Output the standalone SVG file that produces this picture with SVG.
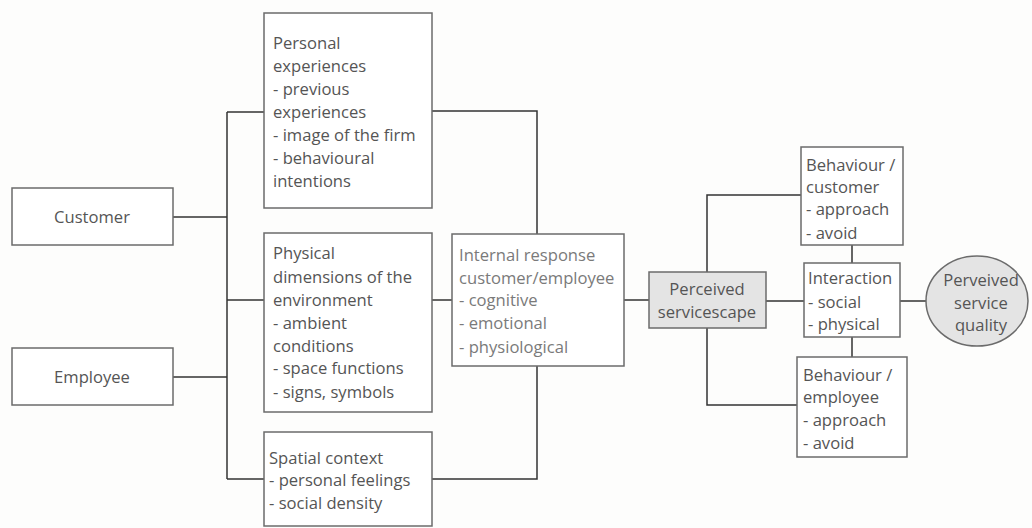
<svg xmlns="http://www.w3.org/2000/svg" width="1032" height="528" viewBox="0 0 1032 528">
  <style>
    .box { fill: #ffffff; stroke: #6b6b6b; stroke-width: 1.5; }
    .grey { fill: #e4e4e4; stroke: #6b6b6b; stroke-width: 1.5; }
    .link { fill: none; stroke: #333333; stroke-width: 1.5; }
    text { font-family: "Open Sans", "Noto Sans", "Liberation Sans", sans-serif; font-size: 16.6px; fill: #555555; }
    .light { fill: #7a7a7a; }
    .mid { text-anchor: middle; }
  </style>
  <rect width="1032" height="528" fill="#fdfdfc"/>

  <g id="connectors">
    <!-- left trunk -->
    <path class="link" d="M227 112 V479"/>
    <path class="link" d="M173 217 H227"/>
    <path class="link" d="M173 377 H227"/>
    <path class="link" d="M227 112 H264"/>
    <path class="link" d="M227 300 H264"/>
    <path class="link" d="M227 479 H264"/>
    <!-- into internal response -->
    <path class="link" d="M432 111 H537 V234"/>
    <path class="link" d="M432 300 H452"/>
    <path class="link" d="M432 479 H537 V366"/>
    <path class="link" d="M624 300 H649"/>
    <!-- servicescape branches -->
    <path class="link" d="M707 272 V195 H801"/>
    <path class="link" d="M707 328 V405 H797"/>
    <path class="link" d="M766 301 H804"/>
    <path class="link" d="M852 245 V263"/>
    <path class="link" d="M852 337 V357"/>
    <path class="link" d="M900 301 H926"/>
  </g>

  <g id="customer">
    <rect class="box" x="12" y="188" width="161" height="57"/>
    <text class="mid" x="92" y="223">Customer</text>
  </g>

  <g id="employee">
    <rect class="box" x="12" y="348" width="161" height="57"/>
    <text class="mid" x="92" y="383">Employee</text>
  </g>

  <g id="personal-experiences">
    <rect class="box" x="264" y="13" width="168" height="195"/>
    <text x="273" y="49">Personal</text>
    <text x="273" y="72">experiences</text>
    <text x="273" y="95">- previous</text>
    <text x="273" y="118">experiences</text>
    <text x="273" y="141">- image of the firm</text>
    <text x="273" y="164">- behavioural</text>
    <text x="273" y="187">intentions</text>
  </g>

  <g id="physical-dimensions">
    <rect class="box" x="264" y="233" width="168" height="179"/>
    <text x="273" y="259">Physical</text>
    <text x="273" y="283">dimensions of the</text>
    <text x="273" y="306">environment</text>
    <text x="273" y="329">- ambient</text>
    <text x="273" y="352">conditions</text>
    <text x="273" y="374">- space functions</text>
    <text x="273" y="398">- signs, symbols</text>
  </g>

  <g id="spatial-context">
    <rect class="box" x="264" y="432" width="168" height="94"/>
    <text x="269" y="464">Spatial context</text>
    <text x="269" y="486">- personal feelings</text>
    <text x="269" y="509">- social density</text>
  </g>

  <g id="internal-response">
    <rect class="box" x="452" y="234" width="172" height="132"/>
    <text class="light" x="459" y="261">Internal response</text>
    <text class="light" x="459" y="284">customer/employee</text>
    <text class="light" x="459" y="306">- cognitive</text>
    <text class="light" x="459" y="329">- emotional</text>
    <text class="light" x="459" y="353">- physiological</text>
  </g>

  <g id="perceived-servicescape">
    <rect class="grey" x="649" y="272" width="117" height="56"/>
    <text class="mid" x="707" y="295">Perceived</text>
    <text class="mid" x="707" y="318">servicescape</text>
  </g>

  <g id="behaviour-customer">
    <rect class="box" x="801" y="147" width="102" height="98"/>
    <text x="806" y="171">Behaviour /</text>
    <text x="806" y="193">customer</text>
    <text x="806" y="215">- approach</text>
    <text x="806" y="239">- avoid</text>
  </g>

  <g id="interaction">
    <rect class="box" x="804" y="263" width="96" height="74"/>
    <text x="808" y="284">Interaction</text>
    <text x="808" y="308">- social</text>
    <text x="808" y="330">- physical</text>
  </g>

  <g id="behaviour-employee">
    <rect class="box" x="797" y="357" width="110" height="100"/>
    <text x="803" y="381">Behaviour /</text>
    <text x="803" y="403">employee</text>
    <text x="803" y="426">- approach</text>
    <text x="803" y="449">- avoid</text>
  </g>

  <g id="perceived-service-quality">
    <ellipse class="grey" cx="977" cy="301" rx="51" ry="45"/>
    <text class="mid" x="981" y="286">Perveived</text>
    <text class="mid" x="981" y="309">service</text>
    <text class="mid" x="981" y="331">quality</text>
  </g>
</svg>
